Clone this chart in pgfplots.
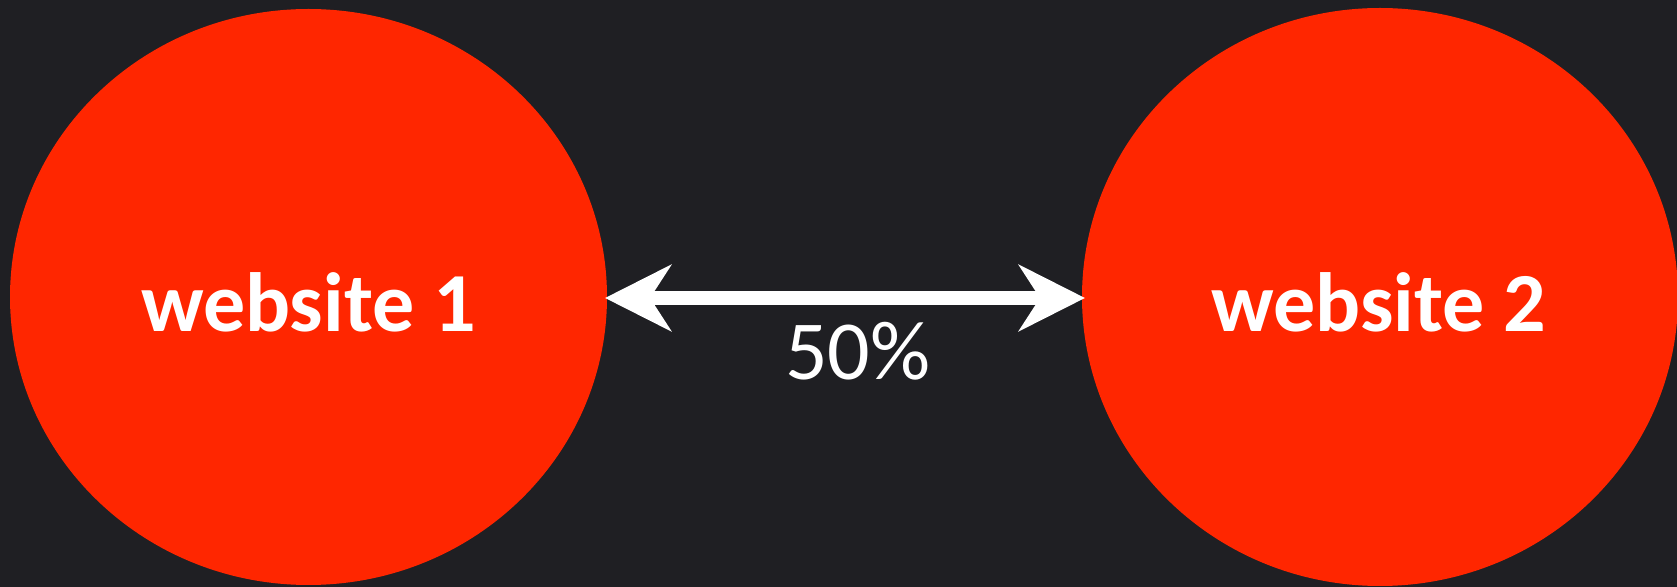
\documentclass[border=0pt]{standalone}
\usepackage{pgfplots}
\pgfplotsset{compat=1.18}
\usepackage{fontspec}
\setmainfont{Carlito}
\usetikzlibrary{arrows.meta}
\definecolor{bg}{RGB}{31,31,35}
\definecolor{redfill}{RGB}{255,38,0}
\begin{document}
\begin{tikzpicture}
\begin{axis}[
  scale only axis,
  width=838.5pt, height=293.5pt,
  xmin=0, xmax=1677, ymin=0, ymax=587,
  y dir=reverse,
  hide axis,
  axis background/.style={fill=bg},
  clip=true,
]
% ellipse centres (px) : x, y
\addplot[draw=none, mark=none] coordinates {(308,297) (1380,297)};
\fill[redfill] (axis cs:308.5,297) ellipse [x radius=298.5, y radius=288];
\fill[redfill] (axis cs:1380,297) ellipse [x radius=298, y radius=289];
\draw[white, line width=7pt,
  arrows={Stealth[length=33pt, width=33pt, inset=10.5pt]-Stealth[length=33pt, width=33pt, inset=10.5pt]}]
  (axis cs:605,298) -- (axis cs:1085,298);
\node[anchor=base, text=white, font=\fontsize{42}{50}\selectfont\bfseries] at (axis cs:308.5,332) {website 1};
\node[anchor=base, text=white, font=\fontsize{42}{50}\selectfont\bfseries] at (axis cs:1379,332) {website 2};
\node[anchor=base, text=white, font=\fontsize{42}{50}\selectfont] at (axis cs:858,380) {50\%};
\end{axis}
\pgfresetboundingbox
\path (current axis.south west) rectangle (current axis.north east);
\end{tikzpicture}
\end{document}
